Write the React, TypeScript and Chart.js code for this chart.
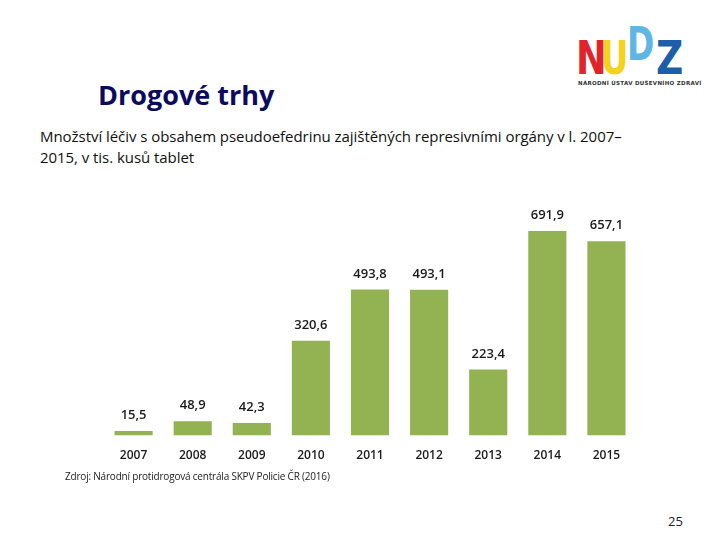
import React, { useEffect, useRef } from "react";
import { Chart, registerables } from "chart.js";

Chart.register(...registerables);

const years = ["2007", "2008", "2009", "2010", "2011", "2012", "2013", "2014", "2015"];
const values = [15.5, 48.9, 42.3, 320.6, 493.8, 493.1, 223.4, 691.9, 657.1];
const valueLabels = ["15,5", "48,9", "42,3", "320,6", "493,8", "493,1", "223,4", "691,9", "657,1"];

const FONT = "'Open Sans', 'DejaVu Sans', sans-serif";

const labelPlugin = {
  id: "valueLabels",
  afterDatasetsDraw(chart: any) {
    const ctx = chart.ctx;
    const meta = chart.getDatasetMeta(0);
    ctx.save();
    ctx.font = "600 13px " + FONT;
    ctx.fillStyle = "#1a1a1a";
    ctx.textAlign = "center";
    ctx.textBaseline = "bottom";
    meta.data.forEach((bar: any, i: number) => {
      ctx.fillText(valueLabels[i], bar.x, bar.y - 9);
    });
    ctx.restore();
  },
};

function BarChart() {
  const ref = useRef<HTMLCanvasElement | null>(null);
  useEffect(() => {
    if (!ref.current) return;
    const chart = new Chart(ref.current, {
      type: "bar",
      data: {
        labels: years,
        datasets: [
          {
            data: values,
            backgroundColor: "#93b251",
            barPercentage: 0.645,
            categoryPercentage: 1,
          },
        ],
      },
      options: {
        animation: false,
        responsive: false,
        maintainAspectRatio: false,
        layout: { padding: 0 },
        plugins: { legend: { display: false }, tooltip: { enabled: false } },
        scales: {
          y: { display: false, min: 0, max: 800 },
          x: {
            grid: { display: false, drawTicks: false },
            border: { display: false },
            ticks: {
              color: "#1a1a1a",
              font: { family: FONT, size: 12, weight: "600" as any },
              padding: 13,
            },
          },
        },
      },
      plugins: [labelPlugin],
    });
    return () => chart.destroy();
  }, []);
  return (
    <canvas
      ref={ref}
      width={532}
      height={277}
      style={{ position: "absolute", left: 104, top: 199, width: 532, height: 277 }}
    />
  );
}

export default function App() {
  return (
    <div
      style={{
        position: "absolute",
        left: 0,
        top: 0,
        width: 720,
        height: 540,
        background: "#ffffff",
        overflow: "hidden",
        fontFamily: FONT,
      }}
    >
      {/* Logo */}
      <div style={{ position: "absolute", left: 576, top: 22, width: 120, height: 70 }}>
        <span style={{ position: "absolute", left: 0, top: 13, fontSize: 47, fontWeight: 700, color: "#e3232b", lineHeight: "46px", fontFamily: "'DejaVu Sans', sans-serif", transform: "scaleX(0.78)", transformOrigin: "left" }}>N</span>
        <span style={{ position: "absolute", left: 25, top: 13, fontSize: 47, fontWeight: 700, color: "#f5d21c", lineHeight: "46px", fontFamily: "'DejaVu Sans', sans-serif", transform: "scaleX(0.72)", transformOrigin: "left" }}>U</span>
        <span style={{ position: "absolute", left: 51, top: -1, fontSize: 47, fontWeight: 700, color: "#5db7e6", lineHeight: "46px", fontFamily: "'DejaVu Sans', sans-serif", transform: "scaleX(0.7)", transformOrigin: "left" }}>D</span>
        <span style={{ position: "absolute", left: 80, top: 13, fontSize: 47, fontWeight: 700, color: "#1d5ea8", lineHeight: "46px", fontFamily: "'DejaVu Sans', sans-serif", transform: "scaleX(0.8)", transformOrigin: "left" }}>Z</span>
        <span style={{ position: "absolute", left: 2, top: 58, fontSize: 5.5, fontWeight: 700, color: "#333", whiteSpace: "nowrap", letterSpacing: 0.3, fontFamily: "'DejaVu Sans', sans-serif" }}>NÁRODNÍ ÚSTAV DUŠEVNÍHO ZDRAVÍ</span>
      </div>

      {/* Title */}
      <div style={{ position: "absolute", left: 98, top: 76, fontSize: 27, fontWeight: 700, color: "#0b0b5e", whiteSpace: "nowrap" }}>
        Drogové trhy
      </div>

      {/* Subtitle */}
      <div style={{ position: "absolute", left: 40, top: 126, width: 660, fontSize: 15, lineHeight: "21px", color: "#111", letterSpacing: -0.05, whiteSpace: "nowrap" }}>
        Množství léčiv s obsahem pseudoefedrinu zajištěných represivními orgány v l. 2007–
        <br />
        2015, v tis. kusů tablet
      </div>

      <BarChart />

      {/* Source */}
      <div style={{ position: "absolute", left: 65, top: 469, fontSize: 10, color: "#222", whiteSpace: "nowrap", letterSpacing: -0.2 }}>
        Zdroj: Národní protidrogová centrála SKPV Policie ČR (2016)
      </div>

      {/* Page number */}
      <div style={{ position: "absolute", left: 668, top: 512, fontSize: 13, color: "#222" }}>25</div>
    </div>
  );
}
